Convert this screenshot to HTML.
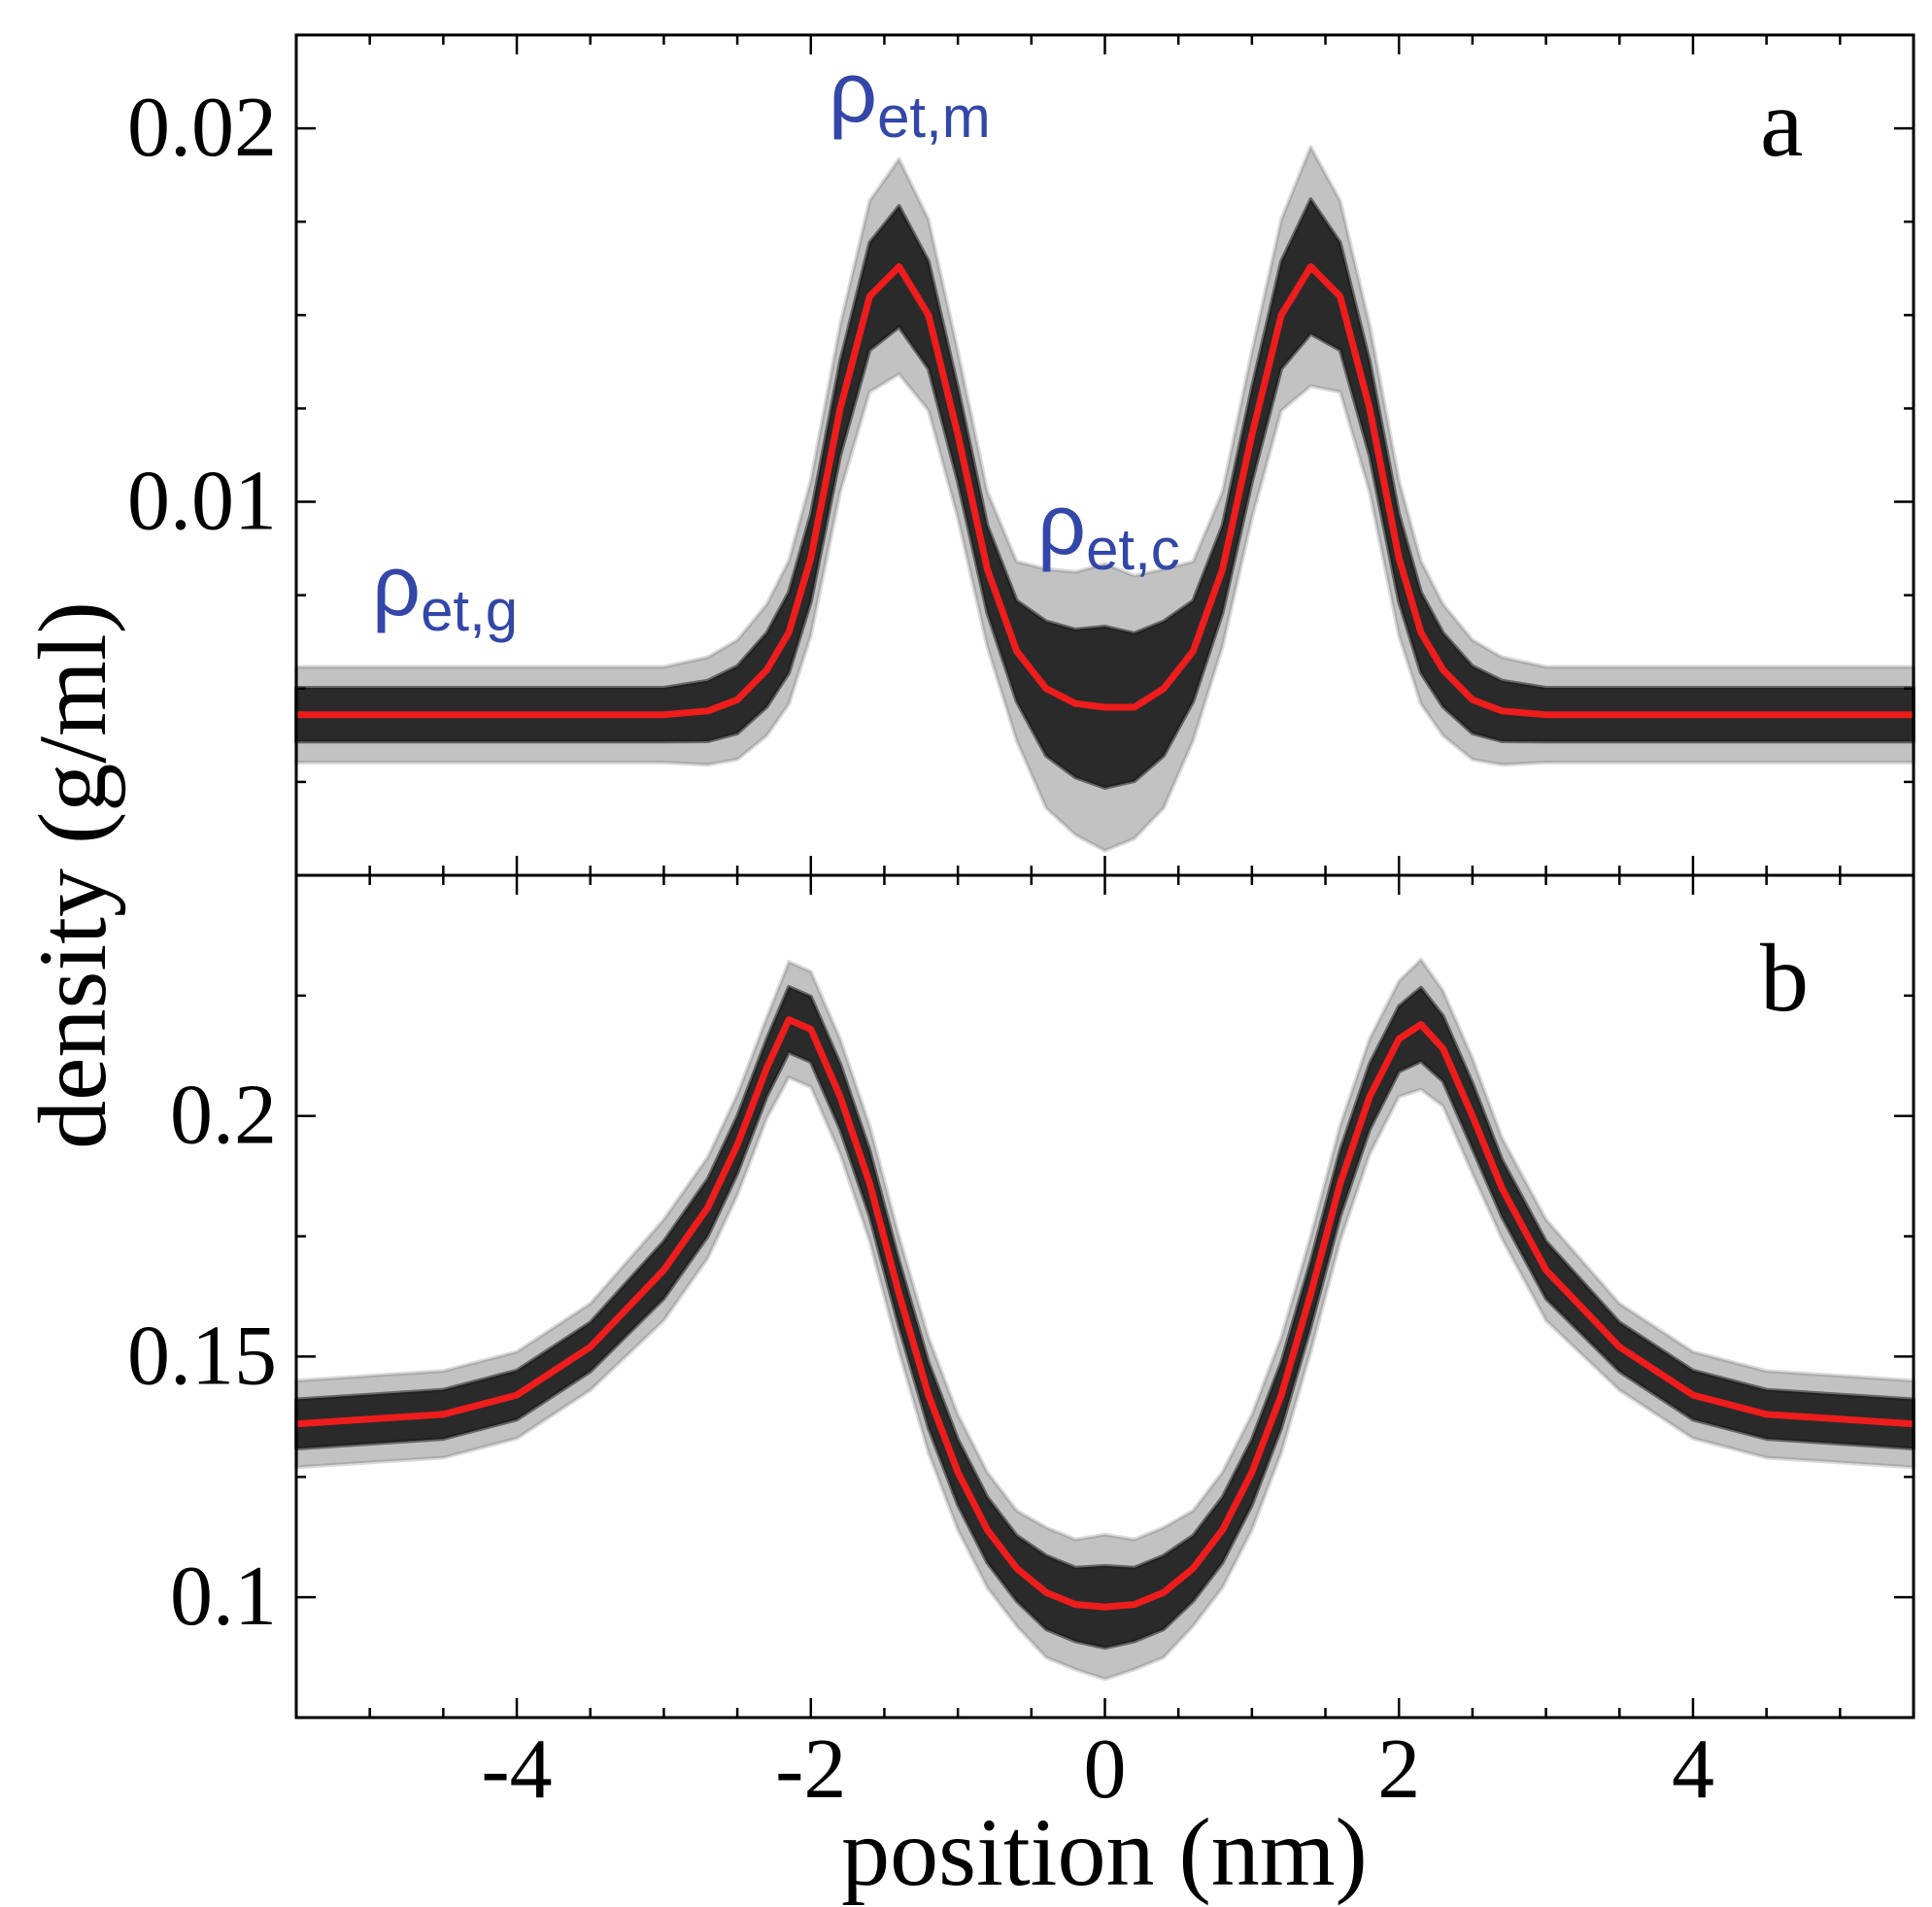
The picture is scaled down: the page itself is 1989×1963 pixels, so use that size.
<!DOCTYPE html>
<html><head><meta charset="utf-8"><style>
html,body{margin:0;padding:0;background:#fff}
svg{display:block}
.tick{font-family:"Liberation Serif",serif;font-size:88px;fill:#000}
.title{font-family:"Liberation Serif",serif;font-size:100px;fill:#000}
.ann{font-family:"Liberation Sans",sans-serif;fill:#3347a8}
</style></head><body>
<svg id="chart" width="1989" height="1963" viewBox="0 0 1989 1963" xmlns="http://www.w3.org/2000/svg">
<g id="bandsA"></g>
<g id="bandsB"></g>
<g id="lines"></g>
<g id="axes"></g>
<text class="title" x="1137" y="1940" text-anchor="middle">position (nm)</text>
<text class="title" transform="translate(108,901) rotate(-90)" text-anchor="middle">density (g/ml)</text>
<text class="title" x="1812" y="160" font-size="92">a</text>
<text class="title" x="1812" y="1040" font-size="92">b</text>
<text class="ann" x="853" y="125" font-size="88">ρ<tspan font-size="60" dy="16">et,m</tspan></text>
<text class="ann" x="1068" y="570" font-size="88">ρ<tspan font-size="60" dy="16">et,c</tspan></text>
<text class="ann" x="383" y="633" font-size="88">ρ<tspan font-size="60" dy="16">et,g</tspan></text>
</svg>
<script>
const xs     = [-5.5,-5,-4.5,-4,-3.5,-3,-2.7,-2.5,-2.3,-2.15,-2,-1.8,-1.6,-1.4,-1.2,-1.0,-0.8,-0.6,-0.4,-0.2,0,0.2,0.4,0.6,0.8,1.0,1.2,1.4,1.6,1.8,2.0,2.15,2.3,2.5,2.7,3,3.5,4,4.5,5,5.5];
const meanA  = [0.0043,0.0043,0.0043,0.0043,0.0043,0.0043,0.0044,0.0047,0.0055,0.0065,0.0085,0.0125,0.0155,0.0163,0.0150,0.0118,0.0082,0.0060,0.0050,0.0046,0.0045,0.0045,0.0050,0.0060,0.0082,0.0118,0.0150,0.0163,0.0155,0.0125,0.0085,0.0065,0.0055,0.0047,0.0044,0.0043,0.0043,0.0043,0.0043,0.0043,0.0043];
const spreadA= [0.0008,0.0008,0.0008,0.0008,0.0008,0.0008,0.0009,0.0010,0.0011,0.0012,0.0013,0.0014,0.0016,0.0018,0.0016,0.0014,0.0013,0.0015,0.0020,0.0022,0.0024,0.0022,0.0020,0.0015,0.0013,0.0014,0.0016,0.0020,0.0016,0.0014,0.0013,0.0012,0.0011,0.0010,0.0009,0.0008,0.0008,0.0008,0.0008,0.0008,0.0008];
const meanB  = [0.136,0.137,0.138,0.142,0.152,0.168,0.181,0.194,0.210,0.220,0.218,0.204,0.186,0.163,0.142,0.126,0.114,0.106,0.101,0.0985,0.098,0.0985,0.101,0.106,0.114,0.126,0.142,0.163,0.186,0.204,0.216,0.219,0.214,0.200,0.185,0.168,0.152,0.142,0.138,0.137,0.136];
const spreadB= [0.006,0.006,0.006,0.006,0.006,0.007,0.007,0.007,0.007,0.008,0.008,0.008,0.008,0.008,0.008,0.008,0.008,0.008,0.009,0.009,0.010,0.009,0.009,0.008,0.008,0.008,0.008,0.008,0.008,0.008,0.008,0.009,0.008,0.008,0.007,0.007,0.006,0.006,0.006,0.006,0.006];
const xTicks = [-4,-2,0,2,4];
const yTicksA = [0.01,0.02];
const yTicksA_labels = ["0.01","0.02"];
const yTicksB = [0.1,0.15,0.2];
const yTicksB_labels = ["0.1","0.15","0.2"];

const NS="http://www.w3.org/2000/svg";
const L=305,R=1970,TA=36,MID=901,BB=1768;
const X=v=>L+(v+5.5)/11*(R-L);
const YA=v=>MID-v/0.0225*(MID-TA);
const YB=v=>BB-(v-0.075)/0.175*(BB-MID);
function mk(tag,attrs,parent){const e=document.createElementNS(NS,tag);for(const k in attrs)e.setAttribute(k,attrs[k]);parent.appendChild(e);return e;}
function band(mean,spread,Y,k,parent,fill,op,name){
  let d="";
  xs.forEach((x,i)=>{d+=(i?"L":"M")+X(x).toFixed(1)+","+Y(mean[i]+spread[i]*k).toFixed(1);});
  for(let i=xs.length-1;i>=0;i--)d+="L"+X(xs[i]).toFixed(1)+","+Y(mean[i]-spread[i]*k).toFixed(1);
  const p=mk("path",{d:d+"Z",fill:fill,"fill-opacity":op,stroke:fill,"stroke-opacity":op*0.6,"stroke-width":4,"stroke-linejoin":"round"},parent);
  
  
}
const gA=document.getElementById("bandsA"),gB=document.getElementById("bandsB");
band(meanA,spreadA,YA,1.6,gA,"#666",0.4,"panel-a-scatter-outer");
band(meanA,spreadA,YA,0.9,gA,"#1a1a1a",0.9,"panel-a-scatter-core");
band(meanB,spreadB,YB,1.5,gB,"#666",0.4,"panel-b-scatter-outer");
band(meanB,spreadB,YB,0.85,gB,"#1a1a1a",0.9,"panel-b-scatter-core");
const gl=document.getElementById("lines");
function line(mean,Y,name){
  const d=xs.map((x,i)=>(i?"L":"M")+X(x).toFixed(1)+","+Y(mean[i]).toFixed(1)).join("");
  const p=mk("path",{d:d,fill:"none",stroke:"#ee1c1c","stroke-width":7,"stroke-linejoin":"round"},gl);
  
  
}
line(meanA,YA,"panel-a-mean-line");
line(meanB,YB,"panel-b-mean-line");
const ga=document.getElementById("axes");
const fr=mk("rect",{x:L,y:TA,width:R-L,height:BB-TA,fill:"none",stroke:"#000","stroke-width":3},ga);


const dv=mk("line",{x1:L,x2:R,y1:MID,y2:MID,stroke:"#000","stroke-width":3},ga);


function tk(x1,y1,x2,y2){mk("line",{x1,y1,x2,y2,stroke:"#000","stroke-width":2.5},ga);}
for(let v=-5.5;v<=5.5001;v+=0.5){
  const x=X(v),maj=Math.abs(v%2)<1e-6&&v!==0||v===0,len=maj?20:10;
  [TA,MID].forEach(y=>tk(x,y,x,y+len));
  [MID,BB].forEach(y=>tk(x,y,x,y-len));
}
for(let v=0.0025;v<0.0225;v+=0.0025){const y=YA(v),len=(Math.abs(v/0.01-Math.round(v/0.01))<1e-6)?20:10;tk(L,y,L+len,y);tk(R,y,R-len,y);}
for(let v=0.1;v<0.25;v+=0.025){const y=YB(v),len=(Math.abs(v/0.05-Math.round(v/0.05))<1e-6)?20:10;tk(L,y,L+len,y);tk(R,y,R-len,y);}
xTicks.forEach(v=>{const t=mk("text",{x:X(v),y:1850,"text-anchor":"middle",class:"tick"},ga);t.textContent=v<0?"-"+Math.abs(v):String(v);
  
  });
yTicksA.forEach((v,i)=>{const t=mk("text",{x:285,y:YA(v)+28,"text-anchor":"end",class:"tick"},ga);t.textContent=yTicksA_labels[i];
  
  });
yTicksB.forEach((v,i)=>{const t=mk("text",{x:285,y:YB(v)+28,"text-anchor":"end",class:"tick"},ga);t.textContent=yTicksB_labels[i];
  
  });
</script>
</body></html>
